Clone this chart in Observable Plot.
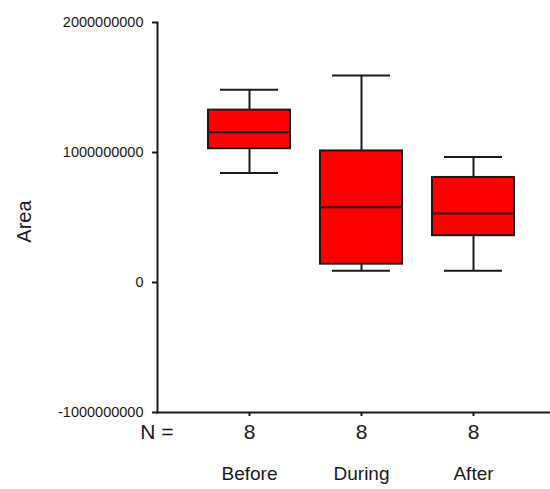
<!DOCTYPE html>
<html><head><meta charset="utf-8">
<script src="https://cdn.jsdelivr.net/npm/d3@7"></script>
<script src="https://cdn.jsdelivr.net/npm/@observablehq/plot@0.6"></script>
<style>
html,body{margin:0;padding:0;background:#fff;}
svg{display:block;}
</style></head>
<body><div id="chart"></div>
<script>
const categories = ["Before", "During", "After"];
const counts = [8, 8, 8];
const whiskerLow = [0.842e9, 0.09e9, 0.09e9];
const q1 = [1.029e9, 0.141e9, 0.36e9];
const median = [1.156e9, 0.579e9, 0.53e9];
const q3 = [1.326e9, 1.012e9, 0.808e9];
const whiskerHigh = [1.483e9, 1.593e9, 0.965e9];
const yTicks = [2000000000, 1000000000, 0, -1000000000];

const rows = categories.map((c, i) => ({
  cat: c, n: counts[i], lo: whiskerLow[i], q1: q1[i], med: median[i], q3: q3[i], hi: whiskerHigh[i]
}));

const ink = "#1a1a1a";
const chart = Plot.plot({
  width: 550, height: 489,
  marginLeft: 157, marginRight: 0, marginTop: 22, marginBottom: 77,
  style: {fontFamily: "Arial, 'Liberation Sans', sans-serif", background: "#fff", color: ink},
  x: {type: "band", domain: categories, range: [193, 529], padding: 0, axis: null, label: null},
  y: {domain: [-1e9, 2e9], axis: null},
  marks: [
    Plot.ruleX(rows, {x: "cat", y1: "lo", y2: "q1", stroke: ink, strokeWidth: 2}),
    Plot.ruleX(rows, {x: "cat", y1: "q3", y2: "hi", stroke: ink, strokeWidth: 2}),
    Plot.tickY(rows, {x: "cat", y: "lo", stroke: ink, strokeWidth: 2, insetLeft: 27, insetRight: 27}),
    Plot.tickY(rows, {x: "cat", y: "hi", stroke: ink, strokeWidth: 2, insetLeft: 27, insetRight: 27}),
    Plot.barY(rows, {x: "cat", y1: "q1", y2: "q3", fill: "#ff0000", stroke: ink, strokeWidth: 2, insetLeft: 15, insetRight: 15}),
    Plot.tickY(rows, {x: "cat", y: "med", stroke: ink, strokeWidth: 2, insetLeft: 15, insetRight: 15}),
    Plot.axisY({ticks: yTicks, tickFormat: d => String(d), tickSize: 5, tickPadding: 9, fontSize: 14.5, stroke: ink, strokeWidth: 2, fill: ink, label: null}),
    Plot.axisX({tickSize: 4, tickFormat: () => "", stroke: ink, strokeWidth: 2, label: null}),
    Plot.frame({anchor: "left", stroke: ink, strokeWidth: 2}),
    Plot.frame({anchor: "bottom", stroke: ink, strokeWidth: 2}),
    Plot.text(rows, {x: "cat", text: d => String(d.n), frameAnchor: "bottom", dy: 26, fontSize: 21, fill: ink}),
    Plot.text(rows, {x: "cat", text: "cat", frameAnchor: "bottom", dy: 67, fontSize: 19, fill: ink, fontFamily: "'Liberation Sans Narrow', 'Arial Narrow', Arial, sans-serif"}),
    Plot.text(["N ="], {frameAnchor: "bottom-left", dx: 16, dy: 26, textAnchor: "end", fontSize: 21, fill: ink}),
    Plot.text(["Area"], {frameAnchor: "left", dx: -133, dy: 4, rotate: -90, textAnchor: "middle", fontSize: 20, fill: ink})
  ]
});
document.getElementById("chart").appendChild(chart);
</script>
</body></html>
